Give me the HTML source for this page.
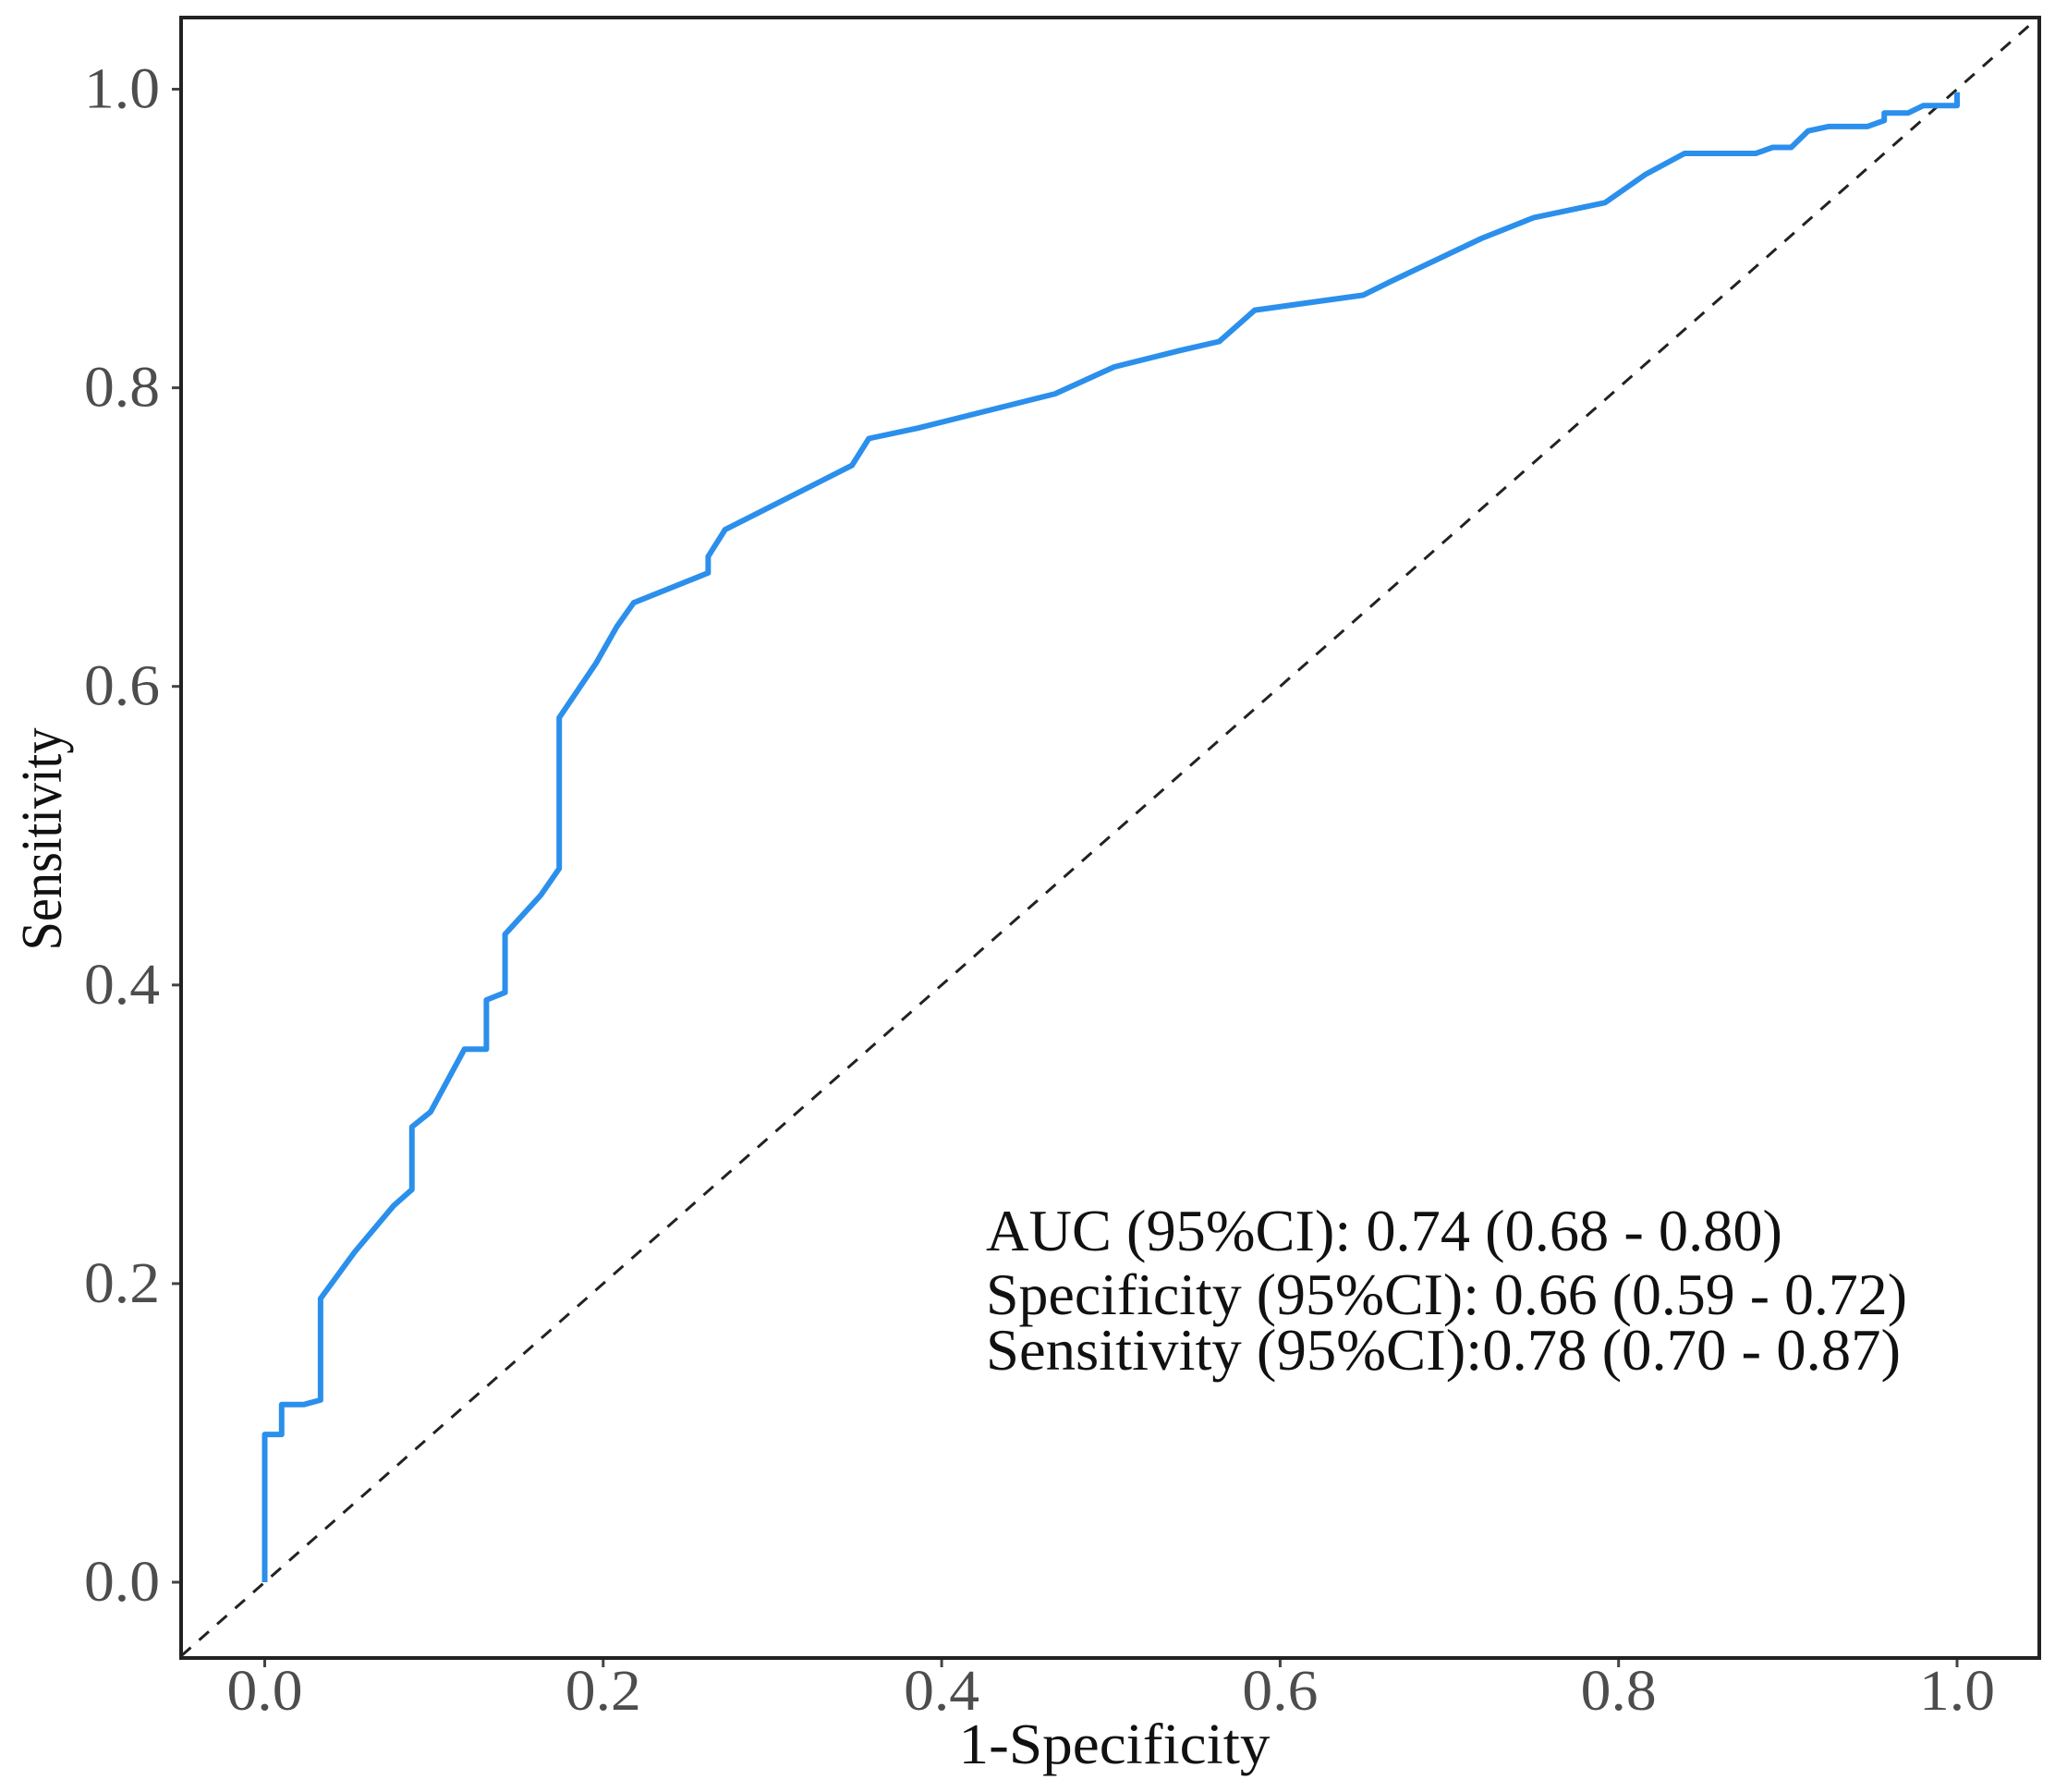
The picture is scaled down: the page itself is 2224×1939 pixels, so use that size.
<!DOCTYPE html>
<html><head><meta charset="utf-8"><style>
html,body{margin:0;padding:0;background:#fff}
svg{display:block}
text{font-family:"Liberation Serif",serif}
</style></head><body>
<svg id="chart" width="2224" height="1939" viewBox="0 0 2224 1939" xmlns="http://www.w3.org/2000/svg">
<rect x="0" y="0" width="2224" height="1939" fill="#fff"/>
<g id="plot"></g>
<rect x="196" y="19" width="2011" height="1775" fill="none" stroke="#222" stroke-width="4"/>
<text x="1067" y="1353" font-size="64" fill="#111" textLength="862" lengthAdjust="spacingAndGlyphs">AUC (95%CI): 0.74 (0.68 - 0.80)</text>
<text x="1067" y="1422" font-size="64" fill="#111" textLength="997" lengthAdjust="spacingAndGlyphs">Specificity (95%CI): 0.66 (0.59 - 0.72)</text>
<text x="1067" y="1482" font-size="64" fill="#111" textLength="990" lengthAdjust="spacingAndGlyphs">Sensitivity (95%CI):0.78 (0.70 - 0.87)</text>
<text x="1206" y="1908" font-size="62" fill="#111" text-anchor="middle" textLength="337" lengthAdjust="spacingAndGlyphs">1-Specificity</text>
<text transform="translate(66,908) rotate(-90)" font-size="62" fill="#111" text-anchor="middle" textLength="241" lengthAdjust="spacingAndGlyphs">Sensitivity</text>
</svg>
<script>
const fprValues = [0,0,0.01,0.01,0.023,0.033,0.033,0.053,0.076,0.087,0.087,0.098,0.118,0.131,0.131,0.142,0.142,0.163,0.174,0.174,0.196,0.208,0.218,0.262,0.262,0.272,0.293,0.347,0.357,0.386,0.467,0.502,0.541,0.564,0.585,0.649,0.665,0.719,0.75,0.792,0.816,0.839,0.881,0.891,0.902,0.912,0.924,0.947,0.957,0.957,0.971,0.98,1,1];
const tprValues = [0,0.099,0.099,0.119,0.119,0.122,0.19,0.221,0.252,0.263,0.305,0.315,0.357,0.357,0.39,0.395,0.434,0.46,0.478,0.579,0.616,0.64,0.656,0.676,0.687,0.705,0.717,0.748,0.766,0.773,0.796,0.814,0.825,0.831,0.852,0.862,0.871,0.9,0.914,0.924,0.943,0.957,0.957,0.961,0.961,0.972,0.975,0.975,0.979,0.984,0.984,0.989,0.989,0.998];
const xTicks = [0,0.2,0.4,0.6,0.8,1.0];
const yTicks = [0,0.2,0.4,0.6,0.8,1.0];
const xTickLabels = ["0.0","0.2","0.4","0.6","0.8","1.0"];
const yTickLabels = ["0.0","0.2","0.4","0.6","0.8","1.0"];

const NS = "http://www.w3.org/2000/svg";
const X0=286.5, X1=2118, Y0=1712, Y1=96.5;
const L=196, R=2207, T=19, B=1794;
function xs(v){return X0+(X1-X0)*v;}
function ys(v){return Y0+(Y1-Y0)*v;}
function xinv(p){return (p-X0)/(X1-X0);}
function yinv(p){return (p-Y0)/(Y1-Y0);}
const g = document.getElementById('plot');
function mk(tag, attrs){const e=document.createElementNS(NS,tag);for(const k in attrs)e.setAttribute(k,attrs[k]);return e;}

// diagonal reference line clipped to box
const dlo = Math.max(xinv(L), yinv(B)), dhi = Math.min(xinv(R), yinv(T));
const diag = mk('line',{x1:xs(dlo),y1:ys(dlo),x2:xs(dhi),y2:ys(dhi),stroke:'#222','stroke-width':3,'stroke-dasharray':'14 12'});


g.appendChild(diag);

// ROC curve
let d = fprValues.map((v,i)=>(i?'L':'M')+xs(v).toFixed(1)+','+ys(tprValues[i]).toFixed(1)).join(' ');
const curve = mk('path',{d:d,fill:'none',stroke:'#2b8fec','stroke-width':6,'stroke-linejoin':'round'});


g.appendChild(curve);

xTicks.forEach((v,i)=>{
  const t = mk('line',{x1:xs(v),y1:B,x2:xs(v),y2:B+10,stroke:'#444','stroke-width':3});
  
  
  g.appendChild(t);
  const lb = mk('text',{x:xs(v),y:1850,'font-size':62,fill:'#4d4d4d','text-anchor':'middle',textLength:82,lengthAdjust:'spacingAndGlyphs'});
  lb.textContent = xTickLabels[i];
  
  
  g.appendChild(lb);
});
yTicks.forEach((v,i)=>{
  const t = mk('line',{x1:L-10,y1:ys(v),x2:L,y2:ys(v),stroke:'#444','stroke-width':3});
  
  
  g.appendChild(t);
  const lb = mk('text',{x:173,y:ys(v)+20,'font-size':62,fill:'#4d4d4d','text-anchor':'end',textLength:82,lengthAdjust:'spacingAndGlyphs'});
  lb.textContent = yTickLabels[i];
  
  
  g.appendChild(lb);
});
</script>
</body></html>
